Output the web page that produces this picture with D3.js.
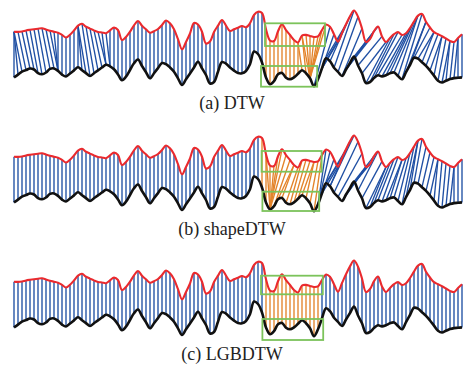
<!DOCTYPE html>
<html><head><meta charset="utf-8">
<script src="https://cdn.jsdelivr.net/npm/d3@7"></script>
<style>body{margin:0;background:#fff}svg{display:block}</style>
</head><body>
<svg id="chart" width="465" height="369"></svg>
<script>
// ---- data ----
const redValues = [
 18.3,18.1,18.5,19.5,20.2,20.8,21.3,21.7,20.5,19.3,
 18.3,17.3,15.1,12.5,15.3,19.6,24.4,26.2,23.3,21.4,
 19.6,18.1,17.5,16.8,19.7,22.4,20,10,13,18.3,
 24.6,29,24.3,20.7,17.3,18.8,21,25,29.5,26.7,
 20.8,10.8,0.7,8,16.5,27,25.5,18.3,6.5,8.5,
 18,24.3,30,24.5,19,20.7,22.3,24,22.7,26.8,
 35,38.3,37,20.7,9.5,9,18.7,25.7,19.8,15,
 10,7.5,14.5,15.1,14,13,13.6,20,25.5,23.3,
 15.8,8.3,17,25.7,33.7,39.5,33.3,21.5,8,11,
 18.8,23.5,13.6,8,12,15.8,17.9,15,16.8,22,
 28.4,34.4,36,28.2,22.5,17.8,15.8,13.8,11.5,9.1,
 8,12,15.8];
const blackValues = [
 12.6,15.4,18.3,19.9,21.5,20.5,16.8,15.7,17.5,21.1,
 21.6,19.1,15.4,13.5,16.5,19.6,22.7,19.8,16.9,14,
 16.8,19.6,22.5,25.3,23.7,20.7,15.6,9.8,13.3,20,
 26.7,30.5,24,17.8,11.7,16.8,21.9,27,25.8,22.5,
 18.3,11.7,5,10.8,16.6,22.5,28.3,21.7,15,6.5,
 8,18.3,28,26.4,22.5,19.4,16.9,16.7,19,25.7,
 38.5,36,27.5,12.5,5.8,8.8,15.8,17,12.3,10.7,
 12.6,16.2,19.8,16.8,11.7,3.7,10.7,21.7,31.8,28.8,
 22.3,18.1,14,20.5,27,33.4,24.5,16.7,7,8,
 12,14.7,13.6,14.8,16.8,17.5,14,10.7,17.8,25,
 32.2,31.3,27.8,24.2,19.5,14.4,9.3,7.5,9.2,10.9,
 11.9,12.2,12.6];
const captions = ["(a) DTW", "(b) shapeDTW", "(c) LGBDTW"];
// warping path knots [red index, black index]
const pathDTW   = [[0,0],[0,2],[9,11],[11,11],[16,16],[16,18],[21,23],[24,24],[62,62],[70,70],[72,74],[78,74],[85,80],[91,85],[100,94],[112,112]];
const pathShape = [[0,0],[62,62],[63,64],[68,64],[77,75],[85,79],[91,86],[99,96],[112,112]];
const pathLGB   = [[0,0],[112,112]];
// highlighted (orange) red-index range per panel
const highlightDTW = [63,78], highlightShape = [62,77], highlightLGB = [63,76];
// green boxes [i0, i1, vTop, vBottom] on red / black series
const boxRedDTW = [62.75,77.75,26.7,4],   boxBlackDTW = [61.75,75.8,24,3.3];
const boxRedShape = [61.9,76.9,24,3.3],   boxBlackShape = [62.1,76.3,23.3,4];
const boxRedLGB = [61.75,77.2,24.3,5.7],  boxBlackLGB = [62.1,77.3,21,0];

// ---- drawing ----
const svg = d3.select("#chart");
const x = d3.scaleLinear().domain([0, redValues.length - 1]).range([14, 462]);
const panelShift = [250, 125, 0];
const panels = [
  {path: pathDTW, hl: highlightDTW, boxR: boxRedDTW, boxB: boxBlackDTW},
  {path: pathShape, hl: highlightShape, boxR: boxRedShape, boxB: boxBlackShape},
  {path: pathLGB, hl: highlightLGB, boxR: boxRedLGB, boxB: boxBlackLGB}
];
const captionY = [109, 235, 360];

function expand(knots) {
  const out = [[knots[0][0], knots[0][1]]];
  for (let k = 1; k < knots.length; k++) {
    const [r0, b0] = knots[k-1], [r1, b1] = knots[k];
    const n = Math.max(Math.abs(r1-r0), Math.abs(b1-b0));
    for (let s = 1; s <= n; s++) {
      out.push([Math.round(r0 + (r1-r0)*s/n), Math.round(b0 + (b1-b0)*s/n)]);
    }
  }
  return out;
}

panels.forEach((p, pi) => {
  const dy = panelShift[pi];
  const yR = d3.scaleLinear().domain([0, 40]).range([300 - dy, 260 - dy]);
  const yB = d3.scaleLinear().domain([0, 40]).range([340 - dy, 300 - dy]);
  const g = svg.append("g");
  const pairs = expand(p.path);
  g.selectAll("line.link").data(pairs).join("line")
    .attr("x1", d => x(d[0])).attr("y1", d => yR(redValues[d[0]]))
    .attr("x2", d => x(d[1])).attr("y2", d => yB(blackValues[d[1]]))
    .attr("stroke", d => (d[0] >= p.hl[0] && d[0] <= p.hl[1]) ? "#e3832a" : "#1f4fa3")
    .attr("stroke-width", 1.35);
  const lineR = d3.line().x((d, i) => x(i)).y(d => yR(d)).curve(d3.curveCatmullRom.alpha(0.5));
  const lineB = d3.line().x((d, i) => x(i)).y(d => yB(d)).curve(d3.curveCatmullRom.alpha(0.5));
  g.append("path").datum(redValues).attr("d", lineR)
    .attr("fill", "none").attr("stroke", "#ea2a2e").attr("stroke-width", 2.1).attr("stroke-linejoin", "round");
  g.append("path").datum(blackValues).attr("d", lineB)
    .attr("fill", "none").attr("stroke", "#111").attr("stroke-width", 2.6).attr("stroke-linejoin", "round");
  [[p.boxR, yR], [p.boxB, yB]].forEach(([b, ys]) => {
    g.append("rect")
      .attr("x", x(b[0])).attr("y", ys(b[2]))
      .attr("width", x(b[1]) - x(b[0])).attr("height", ys(b[3]) - ys(b[2]))
      .attr("fill", "none").attr("stroke", "#7cc35b").attr("stroke-width", 1.8);
  });
  svg.append("text").attr("x", 232).attr("y", captionY[pi])
    .attr("text-anchor", "middle")
    .attr("font-family", "'Liberation Serif', 'Times New Roman', serif")
    .attr("font-size", 18).attr("fill", "#222")
    .text(captions[pi]);
});
</script>
</body></html>
